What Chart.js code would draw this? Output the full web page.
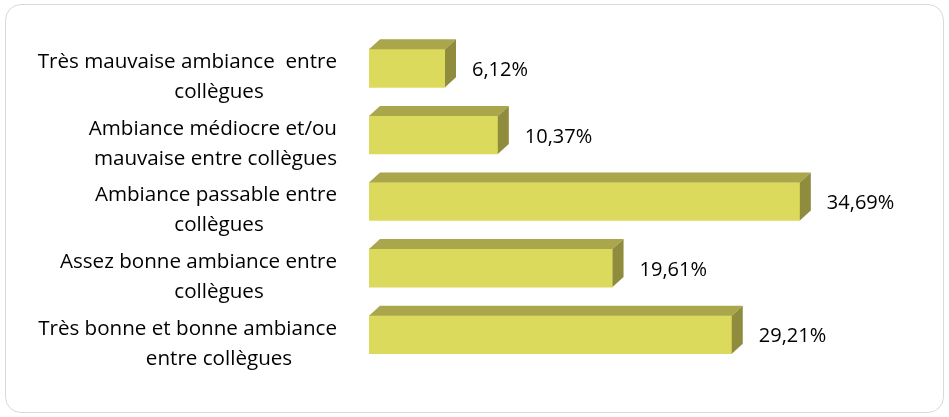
<!DOCTYPE html>
<html>
<head>
<meta charset="utf-8">
<script src="https://cdn.jsdelivr.net/npm/chart.js@4.4.0/dist/chart.umd.min.js"></script>
<style>
  html, body { margin: 0; padding: 0; background: #fff; }
  #frame {
    position: absolute; left: 5px; top: 4px; width: 937px; height: 407px;
    border: 1.5px solid #d9d9d9; border-radius: 16px;
  }
  #wrap { position: absolute; left: 0; top: 0; width: 949px; height: 417px; }
</style>
</head>
<body>
<div id="frame"></div>
<div id="wrap"><canvas id="ambianceChart"></canvas></div>
<script>
    // categories (haut -> bas)
    const categories = [
        ['Très mauvaise ambiance  entre', 'collègues'],
        ['Ambiance médiocre et/ou', 'mauvaise entre collègues'],
        ['Ambiance passable entre', 'collègues'],
        ['Assez bonne ambiance entre', 'collègues'],
        ['Très bonne et bonne ambiance', 'entre collègues']
    ];
    const values = [6.12, 10.37, 34.69, 19.61, 29.21];
    const valueLabels = ['6,12%', '10,37%', '34,69%', '19,61%', '29,21%'];

    const DX = 11, DY = 10;
    const FONT = '"Open Sans", Lato, sans-serif';

    // faces 3D (dessus + côté droit) pour chaque barre
    const bar3d = {
        id: 'bar3d',
        afterDatasetsDraw(chart) {
            const ctx = chart.ctx;
            chart.getDatasetMeta(0).data.forEach(function (bar) {
                const p = bar.getProps(['x', 'y', 'base', 'height'], true);
                const top = p.y - p.height / 2, bottom = p.y + p.height / 2;
                ctx.save();
                ctx.fillStyle = '#aaa64b';
                ctx.beginPath();
                ctx.moveTo(p.base, top);
                ctx.lineTo(p.base + DX, top - DY);
                ctx.lineTo(p.x + DX, top - DY);
                ctx.lineTo(p.x, top);
                ctx.closePath();
                ctx.fill();
                ctx.fillStyle = '#8f8d3d';
                ctx.beginPath();
                ctx.moveTo(p.x, top);
                ctx.lineTo(p.x + DX, top - DY);
                ctx.lineTo(p.x + DX, bottom - DY);
                ctx.lineTo(p.x, bottom);
                ctx.closePath();
                ctx.fill();
                ctx.restore();
            });
        }
    };

    // étiquettes de valeurs + libellés des catégories (lignes centrées, bord droit limité)
    const texts = {
        id: 'texts',
        afterDatasetsDraw(chart) {
            const ctx = chart.ctx;
            const yScale = chart.scales.y;
            const rightEdge = yScale.right - 32;
            const center = rightEdge - 118;
            ctx.save();
            ctx.fillStyle = '#000';
            ctx.textBaseline = 'middle';

            ctx.font = '20px ' + FONT;
            ctx.textAlign = 'left';
            chart.getDatasetMeta(0).data.forEach(function (bar, i) {
                ctx.fillText(valueLabels[i], bar.x + 27, bar.y + 2);
            });

            ctx.font = '20.6px ' + FONT;
            ctx.textAlign = 'center';
            categories.forEach(function (lines, i) {
                const yc = yScale.getPixelForTick(i) + 9;
                lines.forEach(function (line, j) {
                    const w = ctx.measureText(line).width;
                    const x = Math.min(center, rightEdge - w / 2);
                    const y = yc + (j - (lines.length - 1) / 2) * 30;
                    ctx.fillText(line, x, y);
                });
            });
            ctx.restore();
        }
    };

    var ctx = document.getElementById('ambianceChart').getContext('2d');
    new Chart(ctx, {
        type: 'bar',
        data: {
            labels: categories,
            datasets: [{
                data: values,
                backgroundColor: '#dbda5c',
                borderWidth: 0,
                barThickness: 38
            }]
        },
        plugins: [bar3d, texts],
        options: {
            indexAxis: 'y',
            responsive: true,
            maintainAspectRatio: false,
            animation: false,
            layout: { padding: { top: 35, bottom: 49, left: 0, right: 0 } },
            plugins: { legend: { display: false }, tooltip: { enabled: false } },
            scales: {
                x: {
                    display: false,
                    min: 0,
                    max: 46.7
                },
                y: {
                    grid: { display: false },
                    border: { display: false },
                    afterFit: function (scale) {
                        scale.width = 369;
                        scale.paddingTop = 0;
                        scale.paddingBottom = 0;
                    },
                    ticks: { display: false }
                }
            }
        }
    });
</script>
</body>
</html>
